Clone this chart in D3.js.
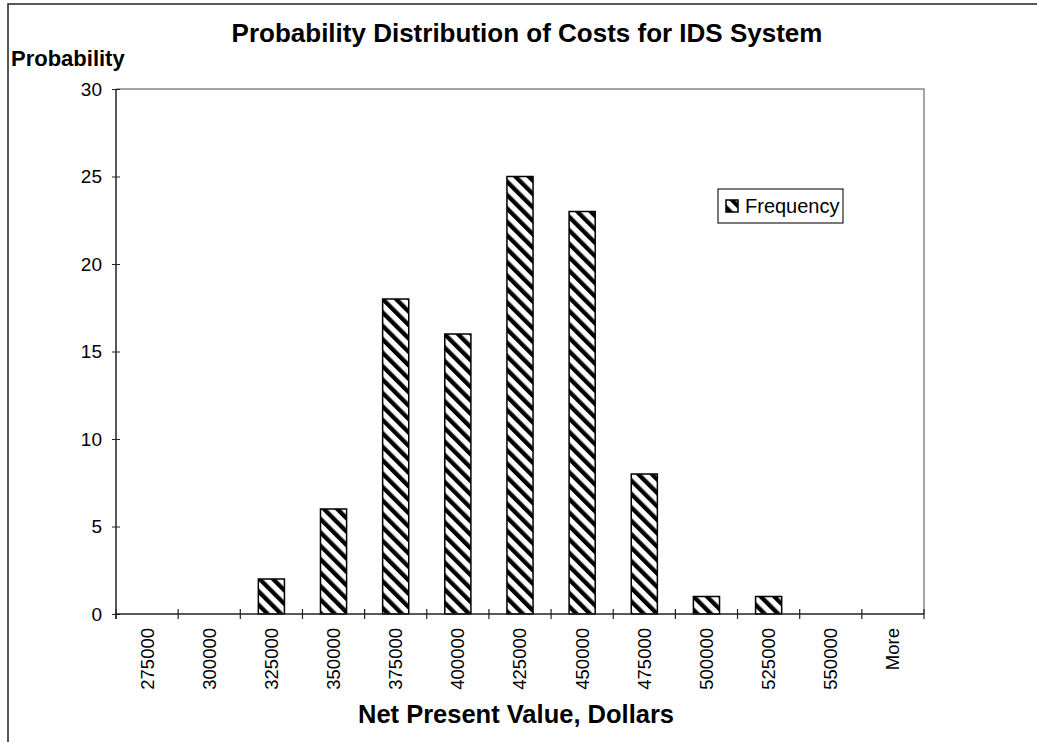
<!DOCTYPE html>
<html>
<head>
  <meta charset="UTF-8">
  <title>Probability Distribution of Costs for IDS System</title>
  <style>
    body { margin: 0; background: #fff; }
    svg { display: block; font-family: "Liberation Sans", Arial, sans-serif; }
  </style>
</head>
<body>
<svg id="chart"></svg>

<script src="https://d3js.org/d3.v7.min.js"></script>
<script>

// chart data
const bins = ["275000", "300000", "325000", "350000", "375000", "400000", "425000",
              "450000", "475000", "500000", "525000", "550000", "More"];
const frequency = [0, 0, 2, 6, 18, 16, 25, 23, 8, 1, 1, 0, 0];
const yTicks = [0, 5, 10, 15, 20, 25, 30];

let width = 1037, height = 742;
let margin = {top: 89, right: 113, bottom: 128, left: 116};

let svg = d3.select("#chart")
    .attr("width", width)
    .attr("height", height);

// hatch pattern for the bars
let defs = svg.append("defs");
defs.append("pattern")
    .attr("id", "hatch")
    .attr("patternUnits", "userSpaceOnUse")
    .attr("width", 9.5)
    .attr("height", 9.5)
    .attr("patternTransform", "rotate(-45)")
    .call(p => {
        p.append("rect").attr("width", 9.5).attr("height", 9.5).attr("fill", "#fff");
        p.append("rect").attr("width", 4.3).attr("height", 9.5).attr("fill", "#000");
    });

// outer chart frame (clipped by the window on right and bottom)
svg.append("path")
    .attr("d", "M8," + height + "V4H" + width)
    .attr("fill", "none")
    .attr("stroke", "#222")
    .attr("stroke-width", 1.5);

let x = d3.scaleBand()
    .domain(bins)
    .range([margin.left, width - margin.right])
    .padding(0);

let y = d3.scaleLinear()
    .domain([0, 30])
    .range([height - margin.bottom, margin.top]);

// plot area top and right border
svg.append("path")
    .attr("d", "M" + margin.left + "," + y(30) + "H" + (width - margin.right) + "V" + y(0))
    .attr("fill", "none")
    .attr("stroke", "#888")
    .attr("stroke-width", 1.5);

// bars
let barW = x.bandwidth() * 0.42;
svg.append("g")
    .selectAll("rect")
    .data(bins.map((b, i) => ({bin: b, value: frequency[i]})).filter(d => d.value > 0))
    .enter()
    .append("rect")
    .attr("x", d => x(d.bin) + (x.bandwidth() - barW) / 2)
    .attr("y", d => y(d.value))
    .attr("width", barW)
    .attr("height", d => y(0) - y(d.value))
    .attr("fill", "url(#hatch)")
    .attr("stroke", "#000")
    .attr("stroke-width", 1.5);

// y axis
let yAxis = svg.append("g")
    .attr("transform", "translate(" + margin.left + ",0)")
    .call(d3.axisLeft(y).tickValues(yTicks).tickSize(4).tickPadding(10));
yAxis.select(".domain").attr("stroke", "#222").attr("stroke-width", 1.5)
    .attr("d", "M0," + y(30) + "V" + (y(0) + 5));
yAxis.selectAll(".tick line").attr("x2", -4).attr("x1", 4).attr("stroke", "#222");
yAxis.selectAll(".tick text")
    .attr("font-size", 19)
    .attr("fill", "#000")
    .attr("font-family", "Liberation Sans, Arial, sans-serif");

// x axis with ticks at category boundaries
let xAxis = svg.append("g")
    .attr("transform", "translate(0," + y(0) + ")");
xAxis.append("line")
    .attr("x1", margin.left).attr("x2", width - margin.right)
    .attr("stroke", "#222").attr("stroke-width", 1.5);
xAxis.selectAll(".xtick")
    .data(bins.concat(["end"]))
    .enter()
    .append("line")
    .attr("class", "xtick")
    .attr("x1", (d, i) => i < bins.length ? x(d) : x(bins[bins.length - 1]) + x.bandwidth())
    .attr("x2", (d, i) => i < bins.length ? x(d) : x(bins[bins.length - 1]) + x.bandwidth())
    .attr("y1", -5).attr("y2", 5)
    .attr("stroke", "#222").attr("stroke-width", 1.2);
xAxis.selectAll(".xlabel")
    .data(bins)
    .enter()
    .append("text")
    .attr("class", "xlabel")
    .attr("transform", d => "translate(" + (x(d) + x.bandwidth() / 2) + ",14) rotate(-90)")
    .attr("dy", "0.35em")
    .attr("text-anchor", "end")
    .attr("font-size", 18.5)
    .attr("fill", "#000")
    .text(d => d);

// titles
svg.append("text")
    .attr("x", 527)
    .attr("y", 42)
    .attr("text-anchor", "middle")
    .attr("font-size", 26)
    .attr("font-weight", "bold")
    .text("Probability Distribution of Costs for IDS System");

svg.append("text")
    .attr("x", 11)
    .attr("y", 66)
    .attr("font-size", 22)
    .attr("font-weight", "bold")
    .text("Probability");

svg.append("text")
    .attr("x", 516)
    .attr("y", 723)
    .attr("text-anchor", "middle")
    .attr("font-size", 25.5)
    .attr("font-weight", "bold")
    .text("Net Present Value, Dollars");

// legend
let legend = svg.append("g").attr("transform", "translate(718,189)");
legend.append("rect")
    .attr("width", 125).attr("height", 34)
    .attr("fill", "#fff").attr("stroke", "#222").attr("stroke-width", 1.2);
legend.append("rect")
    .attr("x", 8).attr("y", 11).attr("width", 12).attr("height", 12)
    .attr("fill", "url(#hatch)").attr("stroke", "#000").attr("stroke-width", 1.5);
legend.append("text")
    .attr("x", 27).attr("y", 24)
    .attr("font-size", 20)
    .text("Frequency");

</script>
</body>
</html>
